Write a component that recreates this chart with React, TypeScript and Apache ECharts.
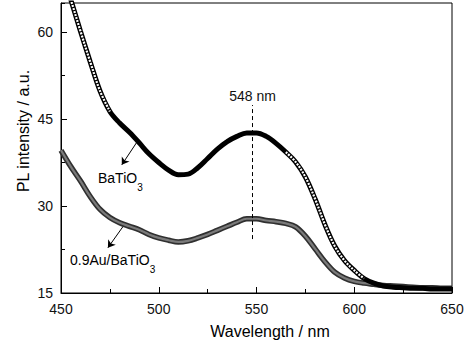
import React, { useEffect, useRef } from "react";
import * as echarts from "echarts";

const wavelength = [
  450, 455, 460, 465, 470, 475, 480, 485, 490, 495, 500, 505, 510, 515, 520, 525, 530, 535, 540, 545,
  550, 555, 560, 565, 570, 575, 580, 585, 590, 595, 600, 605, 610, 615, 620, 625, 630, 635, 640, 645, 650,
];
const batio3 = [
  71.0, 65.6, 60.1, 54.8, 49.8, 46.3, 44.3, 42.7, 40.9, 39.0, 37.5, 36.2, 35.4, 35.5, 36.6, 38.2, 39.8, 41.1, 42.0, 42.6,
  42.6, 42.0, 40.8, 39.3, 37.6, 35.0, 31.2, 26.8, 23.1, 20.6, 18.9, 17.5, 16.7, 16.2, 16.0, 15.9, 15.8, 15.8, 15.7, 15.7, 15.7,
];
const auBatio3 = [
  39.6, 36.8, 34.3, 31.6, 29.4, 28.0, 27.1, 26.5, 25.9, 25.1, 24.5, 24.1, 23.8, 24.0, 24.5, 25.1, 25.8, 26.5, 27.2, 27.8,
  27.8, 27.5, 27.3, 27.0, 26.4, 24.8, 22.6, 20.4, 18.6, 17.6, 17.0, 16.7, 16.5, 16.3, 16.2, 16.1, 16.0, 15.9, 15.9, 15.8, 15.8,
];
const xTicks = [450, 500, 550, 600, 650];
const yTicks = [15, 30, 45, 60];
const yMax = 65;
const peakWavelength = 548;
const peakLineRange = [24.3, 47.4];
const batArrow = [[488.8, 41.0], [481.1, 37.1]];
const auArrow = [[481.6, 26.4], [474.0, 22.8]];
const xLabel = "Wavelength / nm";
const yLabel = "PL intensity / a.u.";

export default function App() {
  const ref = useRef<HTMLDivElement>(null);
  useEffect(() => {
    const chart = echarts.init(ref.current!, null, { renderer: "svg" });
    const font = "'Liberation Sans', Arial, sans-serif";
    const pairs = (ys: number[]) => wavelength.map((x, i) => [x, ys[i]]);
    const steep = (x: number) => x <= 478 || (x >= 565 && x <= 607);
    const batSquares = wavelength.map((x, i) => (steep(x) ? [x, batio3[i]] : [x, null]));
    const xStep = xTicks[1] - xTicks[0];
    const yStep = yTicks[1] - yTicks[0];
    const arrowLine = (a: number[][]) => ({
      silent: true,
      symbol: ["none", "arrow"],
      symbolSize: 7,
      label: { show: false },
      lineStyle: { color: "#000", width: 1, type: "solid" },
      data: [[{ coord: a[0] }, { coord: a[1] }]],
    });
    const rich = {
      a: { fontSize: 14, fontFamily: font, color: "#000", lineHeight: 28 },
      b: { fontSize: 10, fontFamily: font, color: "#000", lineHeight: 12, verticalAlign: "bottom" },
    };
    chart.setOption({
      animation: false,
      grid: { left: 61, right: 16, top: 3, bottom: 57, show: true, borderColor: "#000", borderWidth: 1 },
      xAxis: {
        type: "value",
        min: xTicks[0],
        max: xTicks[xTicks.length - 1],
        interval: xStep,
        axisLine: { lineStyle: { color: "#000", width: 1 } },
        axisTick: { inside: true, length: 6, lineStyle: { color: "#000" } },
        minorTick: { show: true, splitNumber: 2, length: 4, lineStyle: { color: "#000" } },
        axisLabel: { fontSize: 14, fontFamily: font, color: "#111", margin: 9 },
        splitLine: { show: false },
      },
      yAxis: [
        {
          type: "value",
          min: yTicks[0],
          max: yMax,
          interval: yStep,
          axisLine: { show: true, lineStyle: { color: "#000", width: 1 } },
          axisTick: { inside: true, length: 6, lineStyle: { color: "#000" } },
          axisLabel: { fontSize: 14, fontFamily: font, color: "#111", margin: 8, showMaxLabel: false },
          splitLine: { show: false },
        },
        {
          type: "value",
          position: "left",
          min: yTicks[0],
          max: yMax,
          interval: yStep / 2,
          axisLine: { show: false },
          axisTick: { show: true, inside: true, length: 4, lineStyle: { color: "#000" } },
          axisLabel: { show: false },
          splitLine: { show: false },
        },
      ],
      series: [
        {
          type: "line",
          data: pairs(auBatio3),
          smooth: 0.35,
          symbol: "none",
          silent: true,
          lineStyle: { color: "#303030", width: 5.5 },
        },
        {
          type: "line",
          data: pairs(auBatio3),
          smooth: 0.35,
          symbol: "none",
          silent: true,
          lineStyle: { color: "#7a7a7a", width: 2.2 },
          markLine: arrowLine(auArrow),
        },
        {
          type: "line",
          data: pairs(batio3),
          smooth: 0.35,
          symbol: "none",
          silent: true,
          lineStyle: { color: "#000", width: 5 },
          markLine: {
            silent: true,
            symbol: "none",
            lineStyle: { color: "#000", width: 1, type: [4, 3] },
            label: {
              show: true,
              position: "end",
              formatter: `${peakWavelength} nm`,
              fontSize: 14,
              fontFamily: font,
              color: "#111",
              distance: 2,
            },
            data: [[{ coord: [peakWavelength, peakLineRange[0]] }, { coord: [peakWavelength, peakLineRange[1]] }]],
          },
        },
        {
          type: "line",
          data: batSquares,
          smooth: 0.35,
          symbol: "none",
          silent: true,
          connectNulls: false,
          lineStyle: { color: "#fff", width: 2.2, type: [2, 1.2] },
          markLine: arrowLine(batArrow),
        },
      ],
      graphic: [
        {
          type: "text",
          x: 270,
          y: 331,
          style: { text: xLabel, fontSize: 16, fontFamily: font, fill: "#000", align: "center", verticalAlign: "middle" },
        },
        {
          type: "text",
          x: 23.5,
          y: 131,
          rotation: Math.PI / 2,
          style: { text: yLabel, fontSize: 16, fontFamily: font, fill: "#000", align: "center", verticalAlign: "middle" },
        },
        {
          type: "text",
          x: 98,
          y: 178,
          style: { text: "{a|BaTiO}{b|3}", rich, align: "left", verticalAlign: "middle" },
        },
        {
          type: "text",
          x: 70,
          y: 260,
          style: { text: "{a|0.9Au/BaTiO}{b|3}", rich, align: "left", verticalAlign: "middle" },
        },
      ],
    });
    return () => chart.dispose();
  }, []);
  return <div ref={ref} style={{ width: 468, height: 350, position: "absolute", left: 0, top: 0 }} />;
}
